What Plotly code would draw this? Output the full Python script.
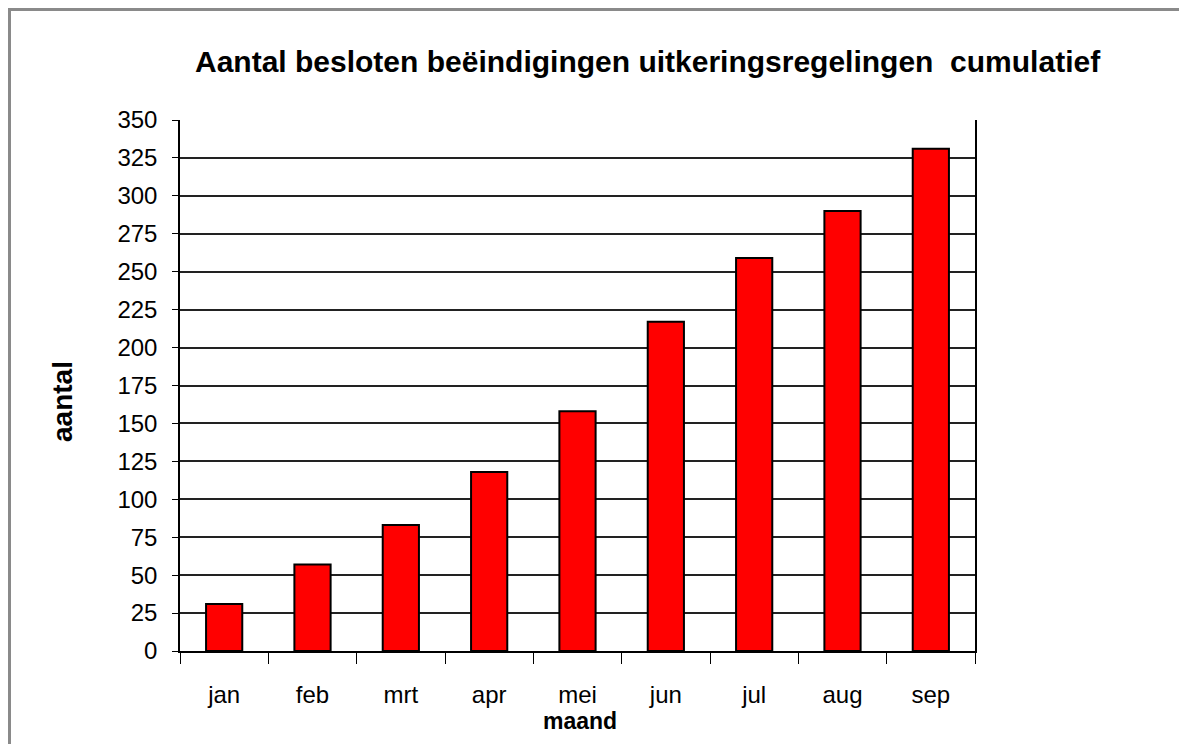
import plotly.graph_objects as go

months = ["jan", "feb", "mrt", "apr", "mei", "jun", "jul", "aug", "sep"]
values = [31, 57, 83, 118, 158, 217, 259, 290, 331]
y_ticks = list(range(0, 351, 25))

OFF = 8  # page body margin
W, H = 1187 - OFF, 744 - OFF
# plot area in viewport pixels
VL, VR, VT, VB = 180, 975, 120, 651
L, R, T, B = VL - OFF, VR - OFF, VT - OFF, VB - OFF

def px_x(p):
    return (p - OFF - L) / (R - L)

def px_y(p):
    return (B - (p - OFF)) / (B - T)

FONT = "Liberation Sans, Arial, sans-serif"

fig = go.Figure(go.Bar(
    x=months, y=values,
    marker=dict(color="#ff0000", line=dict(color="#000000", width=2)),
    width=0.41,
))

fig.update_layout(
    width=W, height=H,
    margin=dict(l=L, r=W - R, t=T, b=H - B, pad=0),
    paper_bgcolor="white", plot_bgcolor="white",
    font=dict(family=FONT, color="black", size=16),
    showlegend=False,
    xaxis=dict(
        type="category", range=[-0.5, 8.5],
        showline=True, linecolor="black", linewidth=1.5,
        ticks="outside", tickson="boundaries", ticklen=11, tickcolor="black", tickwidth=1,
        showgrid=False, tickfont=dict(size=24), ticklabelstandoff=21,
    ),
    yaxis=dict(
        range=[0, 350], tickvals=y_ticks,
        showline=True, linecolor="black", linewidth=1.5, mirror=True,
        ticks="outside", ticklen=6, tickcolor="black", tickwidth=1,
        showgrid=True, gridcolor="#222222", gridwidth=1.5,
        tickfont=dict(size=24), ticklabelstandoff=10, zeroline=False,
    ),
    annotations=[
        dict(text="<b>Aantal besloten beëindigingen uitkeringsregelingen  cumulatief</b>",
             xref="paper", yref="paper", x=px_x(648), y=px_y(62),
             xanchor="center", yanchor="middle", showarrow=False,
             font=dict(size=30, family=FONT)),
        dict(text="<b>maand</b>", xref="paper", yref="paper", x=px_x(580), y=px_y(721),
             xanchor="center", yanchor="middle", showarrow=False, font=dict(size=23)),
        dict(text="<b>aantal</b>", xref="paper", yref="paper", x=px_x(62), y=px_y(402),
             xanchor="center", yanchor="middle", showarrow=False, textangle=-90,
             font=dict(size=28)),
    ],
    shapes=[
        dict(type="rect", xref="paper", yref="paper",
             x0=px_x(OFF + 1.5), x1=px_x(1300), y0=px_y(900), y1=px_y(OFF + 1.5),
             line=dict(color="#8a8a8a", width=3), fillcolor="rgba(0,0,0,0)", layer="below"),
    ],
)

fig.write_html("out.html")
